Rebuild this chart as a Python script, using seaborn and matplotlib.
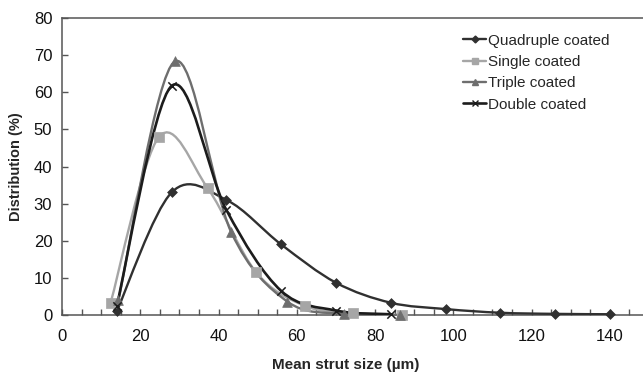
import numpy as np
import pandas as pd
import matplotlib
matplotlib.use("Agg")
import matplotlib.pyplot as plt
import seaborn as sns
from matplotlib.path import Path
from matplotlib.patches import PathPatch
from matplotlib.lines import Line2D
from matplotlib.ticker import MultipleLocator

# data
quad_x = [14, 28, 42, 56, 70, 84, 98, 112, 126, 140]
quad_y = [1.0, 33.0, 31.0, 19.0, 8.7, 3.3, 1.6, 0.6, 0.3, 0.2]
single_x = [12.4, 24.8, 37.2, 49.6, 62.0, 74.4, 86.8]
single_y = [3.2, 48.0, 34.2, 11.5, 2.5, 0.5, 0.0]
triple_x = [14.4, 28.8, 43.2, 57.6, 72.0, 86.4]
triple_y = [4.0, 68.3, 22.4, 3.6, 0.3, 0.0]
double_x = [14, 28, 42, 56, 70, 84]
double_y = [2.5, 61.7, 28.3, 6.5, 1.2, 0.2]

series = [
    ("Quadruple coated", quad_x, quad_y, "#303030", "D", 5, 1.7),
    ("Single coated", single_x, single_y, "#a6a6a6", "s", 7, 1.7),
    ("Triple coated", triple_x, triple_y, "#6e6e6e", "^", 7, 1.7),
    ("Double coated", double_x, double_y, "#1c1c1c", "x", 6, 1.9),
]


def smooth_path(x, y):
    # Excel-style smoothed line: Catmull-Rom segments as cubic Beziers
    p = np.column_stack([x, y]).astype(float)
    n = len(p)
    verts = [p[0]]
    codes = [Path.MOVETO]
    for i in range(n - 1):
        p0 = p[i - 1] if i > 0 else p[i]
        p3 = p[i + 2] if i + 2 < n else p[i + 1]
        verts += [p[i] + (p[i + 1] - p0) / 6, p[i + 1] - (p3 - p[i]) / 6, p[i + 1]]
        codes += [Path.CURVE4] * 3
    return Path(verts, codes)


sns.set_style("ticks")
plt.rcParams["font.family"] = ["Liberation Sans", "DejaVu Sans"]

fig = plt.figure(figsize=(6.43, 3.74), dpi=100)
ax = fig.add_axes([0.0964, 0.1578, 0.913, 0.794])

handles = []
for name, xs, ys, color, marker, ms, lw in series:
    ax.add_patch(PathPatch(smooth_path(xs, ys), facecolor="none", edgecolor=color, lw=lw, zorder=3))
    df = pd.DataFrame({"x": xs, "y": ys})
    if marker == "x":
        sns.scatterplot(data=df, x="x", y="y", ax=ax, marker="x", color=color, s=ms ** 2,
                        linewidth=1.1, zorder=4, clip_on=False)
    else:
        sns.scatterplot(data=df, x="x", y="y", ax=ax, marker=marker, color=color, s=ms ** 2,
                        edgecolor=color, linewidth=0.5, zorder=4, clip_on=False)
    handles.append(Line2D([], [], color=color, lw=lw, marker=marker, markersize=ms * 0.7,
                          markeredgecolor=color, label=name))

ax.set_xlim(0, 150)
ax.set_ylim(0, 80)
ax.xaxis.set_major_locator(MultipleLocator(20))
ax.xaxis.set_minor_locator(MultipleLocator(5))
ax.yaxis.set_major_locator(MultipleLocator(10))
ax.tick_params(axis="both", which="both", direction="in", length=4, width=1,
               color="#555555", labelsize=12, colors="#111111")
ax.tick_params(axis="x", which="major", pad=10)
ax.tick_params(axis="y", which="major", pad=7)
for s in ax.spines.values():
    s.set_color("#555555")
    s.set_linewidth(1.1)

ax.set_xlabel("Mean strut size (µm)", fontsize=11, fontweight="bold", labelpad=7)
ax.xaxis.set_label_coords(0.484, -0.145)
ax.set_ylabel("Distribution (%)", fontsize=10.5, fontweight="bold", labelpad=8)

ax.legend(handles=handles, loc="upper left", bbox_to_anchor=(0.673, 0.968), frameon=False,
          fontsize=11, handlelength=1.5, handletextpad=0.1, labelspacing=0.48,
          borderaxespad=0)

fig.savefig("out.png", dpi=100)
plt.close(fig)
